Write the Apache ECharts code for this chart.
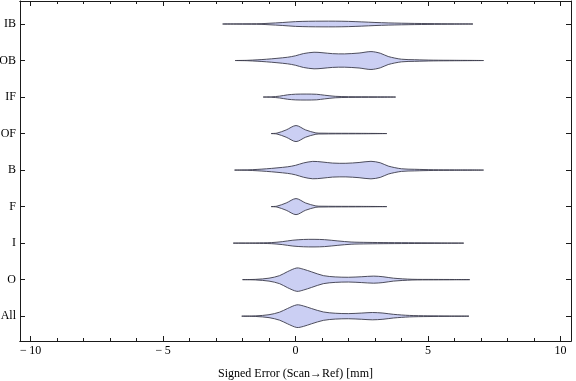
<!DOCTYPE html>
<html><head><meta charset="utf-8">
<script src="https://cdn.jsdelivr.net/npm/echarts@6/dist/echarts.min.js"></script>
<style>html,body{margin:0;padding:0;background:#fff}#c{width:576px;height:381px}</style>
</head><body><div id="c"></div>
<script>
// Categories from bottom to top
const categories = ['All', 'O', 'I', 'F', 'B', 'OF', 'IF', 'OB', 'IB'];
const xMajorTicks = [-10, -5, 0, 5, 10];
const xMinorTicks = [-10,-9,-8,-7,-6,-5,-4,-3,-2,-1,0,1,2,3,4,5,6,7,8,9,10];
const axisTitle = 'Signed Error (Scan\u2192Ref) [mm]';

// Violin profiles: [signed error (mm), half-width density in category units]
const violinAll = [[-2.03,0],[-1.5,0.008],[-1,0.04],[-0.6,0.11],[-0.3,0.21],[0.05,0.31],[0.3,0.28],[0.6,0.21],[1.05,0.115],[1.5,0.08],[2,0.07],[2.5,0.085],[2.9,0.1],[3.3,0.085],[3.7,0.05],[4.3,0.02],[5,0.01],[5.8,0.005],[6.55,0]];
const violinO = [[-2,0],[-1.5,0.008],[-1,0.04],[-0.6,0.11],[-0.3,0.22],[0.05,0.32],[0.3,0.285],[0.6,0.215],[1.05,0.11],[1.5,0.075],[2,0.065],[2.5,0.08],[2.95,0.097],[3.3,0.08],[3.7,0.04],[4.4,0.01],[5.2,0.006],[6,0.004],[6.58,0]];
const violinI = [[-2.35,0],[-1.5,0.006],[-0.9,0.015],[-0.5,0.04],[-0.1,0.08],[0.3,0.1],[0.7,0.104],[1.1,0.095],[1.6,0.06],[2.1,0.03],[2.7,0.02],[3.5,0.014],[4.5,0.01],[5.5,0.006],[6.35,0]];
const violinF = [[-0.92,0],[-0.7,0.012],[-0.35,0.1],[0.02,0.22],[0.38,0.1],[0.77,0.018],[1.0,0.011],[1.5,0.008],[2.5,0.006],[3.45,0]];
const violinB = [[-2.3,0],[-1.8,0.006],[-1.1,0.035],[-0.3,0.09],[0,0.13],[0.3,0.195],[0.65,0.238],[1.0,0.222],[1.4,0.192],[1.9,0.186],[2.4,0.208],[2.85,0.24],[3.2,0.2],[3.5,0.11],[4.0,0.036],[4.5,0.022],[5.2,0.01],[6,0.006],[7.1,0]];
const violinOF = [[-0.92,0],[-0.7,0.012],[-0.35,0.1],[0.02,0.22],[0.38,0.1],[0.77,0.018],[1.0,0.011],[1.5,0.008],[2.5,0.006],[3.45,0]];
const violinIF = [[-1.22,0],[-0.9,0.006],[-0.6,0.025],[-0.3,0.06],[0,0.078],[0.4,0.082],[0.8,0.076],[1.1,0.05],[1.5,0.02],[2,0.01],[2.5,0.008],[3,0.006],[3.78,0]];
const violinOB = [[-2.28,0],[-1.8,0.006],[-1.1,0.035],[-0.3,0.09],[0,0.13],[0.3,0.19],[0.7,0.227],[1.0,0.215],[1.4,0.188],[1.85,0.182],[2.4,0.205],[2.85,0.245],[3.2,0.2],[3.5,0.11],[4.0,0.036],[4.5,0.022],[5.2,0.01],[6,0.006],[7.1,0]];
const violinIB = [[-2.75,0],[-2,0.004],[-1.3,0.01],[-1,0.02],[-0.5,0.04],[0,0.065],[0.5,0.075],[1,0.078],[1.5,0.078],[2,0.072],[2.5,0.058],[3,0.042],[3.5,0.03],[4,0.022],[4.5,0.016],[5,0.012],[5.5,0.008],[6,0.005],[6.7,0]];

const profiles = [violinAll, violinO, violinI, violinF, violinB, violinOF, violinIF, violinOB, violinIB];

const FONT = '"Liberation Serif", "DejaVu Serif", serif';
const AX = '#1a1a1a';
const fmtX = v => v < 0 ? '\u2212\u2009' + Math.abs(v) : String(v);
const yPos = categories.map((c, i) => i + 1);

const XMIN = -10.4, XMAX = 10.4, YMIN = 0.32, YMAX = 9.63;

function xAxisDef(pos, major, withLabels) {
  return {
    type: 'value', position: pos, min: XMIN, max: XMAX,
    axisLine: { show: true, onZero: false, lineStyle: { color: AX, width: 1 } },
    axisTick: { show: true, inside: true, length: major ? 5 : 3, customValues: major ? xMajorTicks : xMinorTicks, lineStyle: { color: AX, width: 1 } },
    axisLabel: withLabels ? { show: true, customValues: xMajorTicks, formatter: fmtX, fontFamily: FONT, fontSize: 12, color: '#000', margin: 4 } : { show: false },
    splitLine: { show: false },
    name: withLabels ? axisTitle : '',
    nameLocation: 'middle', nameGap: 27,
    nameTextStyle: { fontFamily: FONT, fontSize: 12, color: '#000' }
  };
}
function yAxisDef(pos, withLabels) {
  return {
    type: 'value', position: pos, min: YMIN, max: YMAX,
    axisLine: { show: true, onZero: false, lineStyle: { color: AX, width: 1 } },
    axisTick: { show: true, inside: true, length: 5, customValues: yPos, lineStyle: { color: AX, width: 1 } },
    axisLabel: withLabels ? { show: true, customValues: yPos, formatter: v => categories[Math.round(v) - 1] || '', fontFamily: FONT, fontSize: 12, color: '#000', margin: 4 } : { show: false },
    splitLine: { show: false }
  };
}

const chart = echarts.init(document.getElementById('c'), null, { renderer: 'canvas' });
chart.setOption({
  animation: false,
  backgroundColor: '#fff',
  grid: { left: 20, right: 5, top: 1, bottom: 40, containLabel: false, outerBoundsMode: 'none' },
  xAxis: [xAxisDef('bottom', true, true), xAxisDef('bottom', false, false), xAxisDef('top', true, false), xAxisDef('top', false, false)],
  yAxis: [yAxisDef('left', true), yAxisDef('right', false)],
  series: [{
    type: 'custom',
    xAxisIndex: 0, yAxisIndex: 0,
    clip: true,
    data: categories.map((c, i) => [0, i + 1]),
    renderItem: function (params, api) {
      const prof = profiles[params.dataIndex];
      const cy = api.value(1);
      const top = prof.map(p => api.coord([p[0], cy + p[1]]));
      const bot = prof.slice(1, -1).reverse().map(p => api.coord([p[0], cy - p[1]]));
      return {
        type: 'polygon',
        shape: { points: top.concat(bot), smooth: 0.3 },
        style: { fill: '#cbcff3', stroke: 'rgba(60,60,75,0.9)', lineWidth: 1 }
      };
    }
  }]
});
</script>
</body></html>
